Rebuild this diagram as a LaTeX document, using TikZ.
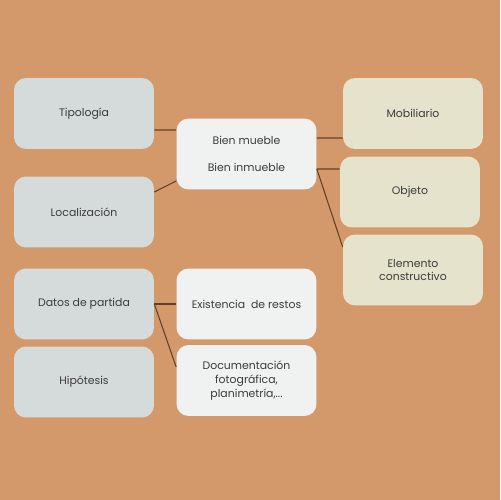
\documentclass[tikz,border=0pt]{standalone}
\usepackage{fontspec}
\setmainfont{Poppins}
\usepackage{tikz}
\usetikzlibrary{positioning}

\definecolor{fondo}{RGB}{211,153,107}
\definecolor{gris}{RGB}{213,219,219}
\definecolor{blanco}{RGB}{240,242,241}
\definecolor{crema}{RGB}{229,227,204}
\definecolor{linea}{RGB}{96,64,40}
\definecolor{texto}{RGB}{60,60,60}

\begin{document}
\begin{tikzpicture}[x=0.02cm, y=-0.02cm,
  caja/.style={rounded corners=0.24cm, minimum width=2.8cm, minimum height=1.42cm,
    align=center, text=texto, font=\fontsize{6.2}{7.8}\selectfont, inner sep=2pt},
  izq/.style={caja, fill=gris},
  centro/.style={caja, fill=blanco},
  der/.style={caja, fill=crema},
  enlace/.style={draw=linea, line width=0.6pt}]
% fondo
\fill[fondo] (0,0) rectangle (500,500);
% columna izquierda
\node[izq] (tipo) at (84,113.5) {Tipología};
\node[izq] (loc) at (84,212) {Localización};
\node[izq] (datos) at (84,304) {Datos de partida};
\node[izq] (hipo) at (84,382) {Hipótesis};
% columna central
\node[centro] (bien) at (246.5,154) {Bien mueble\\[8pt]Bien inmueble};
\node[centro] (exist) at (246.5,304) {Existencia\ \ de restos};
\node[centro] (docu) at (246.5,380.5) {Documentación\\fotográfica,\\planimetría,...};
% columna derecha
\node[der] (mob) at (413,113.5) {Mobiliario};
\node[der] (obj) at (410,192) {Objeto};
\node[der] (elem) at (413,270) {Elemento\\constructivo};
% enlaces
\draw[enlace] ([yshift=-0.33cm]tipo.east) -- ([yshift=0.48cm]bien.west);
\draw[enlace] ([yshift=0.4cm]loc.east) -- ([yshift=-0.54cm]bien.west);
\draw[enlace] ([yshift=0.32cm]bien.east) -- ([yshift=-0.49cm]mob.west);
\draw[enlace] ([yshift=-0.3cm]bien.east) -- ([yshift=0.46cm]obj.west);
\draw[enlace] ([yshift=-0.3cm]bien.east) -- ([yshift=0.46cm]elem.west);
\draw[enlace] (datos.east) -- (exist.west);
\draw[enlace] (datos.east) -- ([yshift=0.27cm]docu.west);
\end{tikzpicture}
\end{document}
